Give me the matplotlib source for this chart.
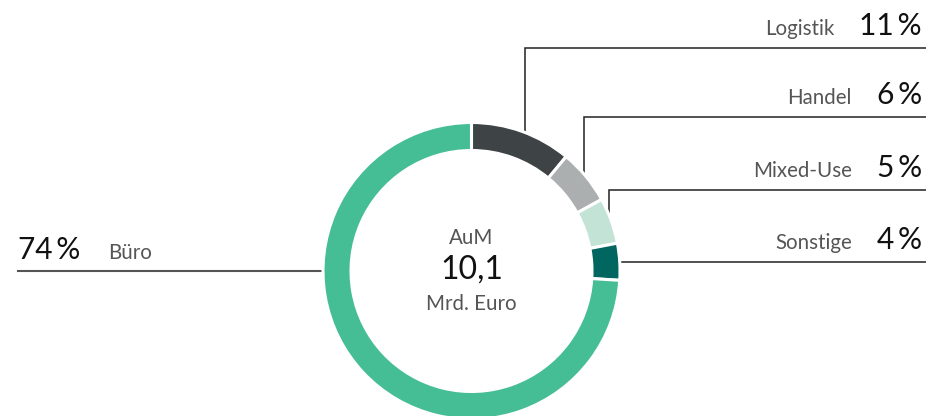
import matplotlib
matplotlib.use("Agg")
import matplotlib.pyplot as plt

categories = ["Logistik", "Handel", "Mixed-Use", "Sonstige", "Büro"]
values = [11, 6, 5, 4, 74]
colors = ["#3e4346", "#abafb0", "#c2e3d5", "#00665f", "#46be95"]
center_lines = ["AuM", "10,1", "Mrd. Euro"]

W, H = 926, 416
fig = plt.figure(figsize=(W / 100, H / 100), dpi=100)
ax = fig.add_axes([0, 0, 1, 1])

cx, cy, R, ring = 471.5, 271, 148.5, 28
# y axis is inverted (pixel coords): startangle 270 = top, counterclock in data = clockwise on screen
ax.pie(values, colors=colors, startangle=270, counterclock=True,
       center=(cx, cy), radius=R, frame=True,
       wedgeprops=dict(width=ring, edgecolor="white", linewidth=2.2, zorder=3))
ax.set_xlim(0, W)
ax.set_ylim(H, 0)
ax.set_aspect("equal")
ax.axis("off")

FONT = "Lato"
lab_col = "#555555"
line_col = "#222222"
LAB_FS = 14.8

right = {
    "Logistik": (525, 48, 140),
    "Handel": (584, 117, 180),
    "Mixed-Use": (609, 190, 222),
    "Sonstige": (None, 262, 612),
}
fig.canvas.draw()
renderer = fig.canvas.get_renderer()
for cat, val in zip(categories, values):
    if cat == "Büro":
        continue
    vx, hy, end = right[cat]
    if vx is not None:
        ax.plot([vx, vx, W], [end, hy, hy], color=line_col, lw=1.1, zorder=1,
                solid_joinstyle="miter")
    else:
        ax.plot([end, W], [hy, hy], color=line_col, lw=1.1, zorder=1)
    t = ax.text(922, hy - 13, f"{val}\u2009%", fontsize=21.5, family=FONT,
                color="#111111", ha="right", va="baseline")
    bb = t.get_window_extent(renderer)
    ax.text(bb.x0 - 25, hy - 13, cat, fontsize=LAB_FS, family=FONT,
            color=lab_col, ha="right", va="baseline")

bv = values[categories.index("Büro")]
ax.plot([18, 330], [271, 271], color="#555555", lw=1.5, zorder=1)
ax.text(18, 259, f"{bv}\u2009%", fontsize=21.5, family=FONT, color="#111111",
        ha="left", va="baseline")
ax.text(108, 259, "Büro", fontsize=LAB_FS, family=FONT,
        color=lab_col, ha="left", va="baseline")

ax.text(cx, 238, center_lines[0], fontsize=LAB_FS, family=FONT,
        color=lab_col, ha="center", va="center")
ax.text(cx, 270, center_lines[1], fontsize=23, family=FONT, color="#111111",
        ha="center", va="center")
ax.text(cx, 304, center_lines[2], fontsize=LAB_FS, family=FONT,
        color=lab_col, ha="center", va="center")

fig.savefig("out.png", dpi=100)
